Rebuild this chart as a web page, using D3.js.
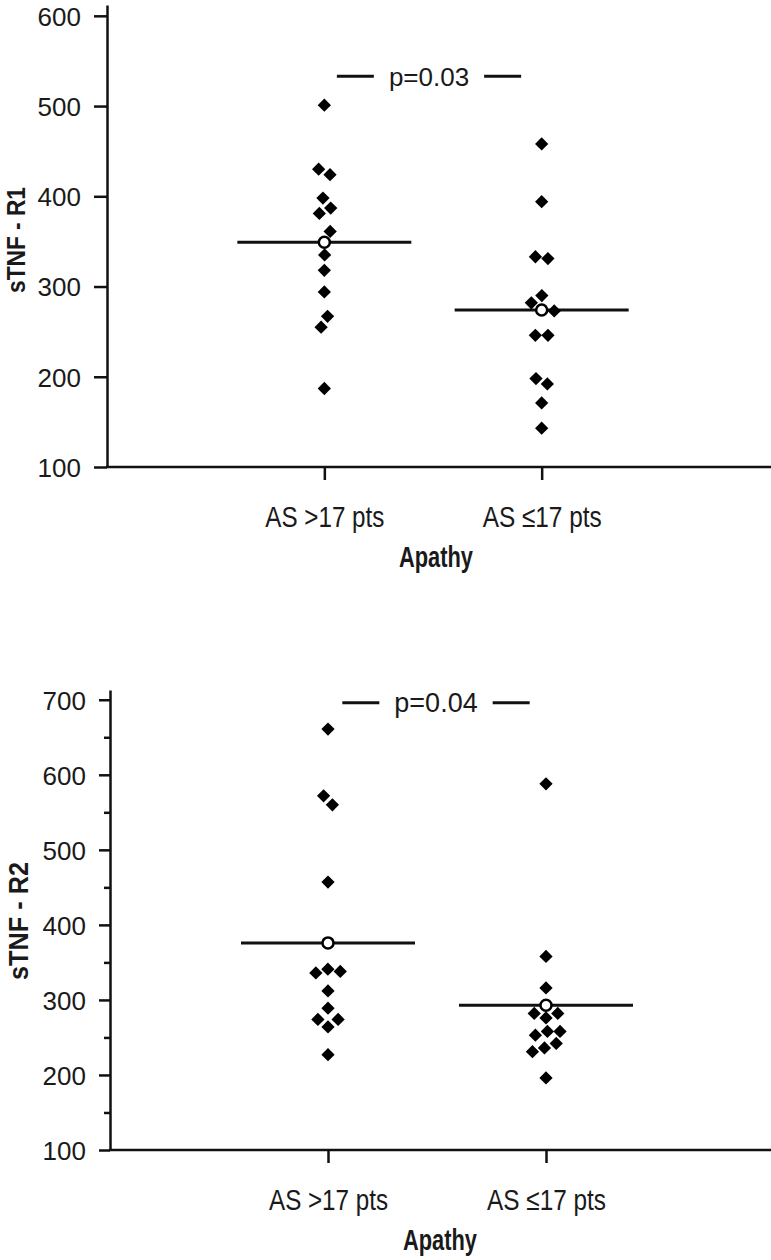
<!DOCTYPE html>
<html>
<head>
<meta charset="utf-8">
<script src="https://cdn.jsdelivr.net/npm/d3@7"></script>
<style>
  body { margin: 0; background: #fff; }
  svg text { fill: #1a1a1a; font-family: "Liberation Sans", Arial, sans-serif; }
</style>
</head>
<body>
<script>
// categories
const groups = ["AS >17 pts", "AS \u226417 pts"];

// sTNF - R1 values
const r1High = [501, 430, 424, 398, 387, 381, 361, 335, 318, 294, 267, 255, 187];
const r1Low = [458, 394, 333, 331, 290, 282, 273, 246, 246, 198, 192, 171, 143];
const r1Median = [349, 274];
const r1Ticks = [100, 200, 300, 400, 500, 600];

// sTNF - R2 values
const r2High = [661, 572, 560, 457, 341, 338, 336, 312, 289, 274, 274, 264, 227];
const r2Low = [588, 358, 316, 282, 282, 276, 258, 258, 253, 242, 236, 231, 196];
const r2Median = [376, 293];
const r2Ticks = [100, 200, 300, 400, 500, 600, 700];
const r2Minor = [150, 250, 350, 450, 550, 650];

const pLabels = ["p=0.03", "p=0.04"];
const pLevels = [533, 696];

const W = 771, H = 1260;

const svg = d3.select("body").append("svg")
    .attr("width", W)
    .attr("height", H);

const diamond = d3.symbol().type(d3.symbolSquare).size(88);

// squeeze a text to a width so it reads like the condensed face of the original
function squeeze(sel, w) {
    sel.attr("textLength", w).attr("lengthAdjust", "spacingAndGlyphs");
}

function drawPanel(p) {
    const g = svg.append("g");

    const y = d3.scaleLinear().domain([100, p.yMax]).range([p.bottom, p.top]);
    const x = d3.scalePoint().domain(groups).range([p.left, p.left + p.span]).padding(1);

    // y axis with labels
    const yAxis = g.append("g")
        .attr("transform", `translate(${p.left},0)`)
        .call(d3.axisLeft(y).tickValues(p.ticks).tickSize(p.tickLen).tickSizeOuter(0).tickPadding(13));
    yAxis.selectAll("line").attr("stroke", "#111").attr("stroke-width", 2.5);
    yAxis.select(".domain").attr("stroke", "#111").attr("stroke-width", 2.5);
    yAxis.selectAll("text")
        .attr("font-size", p.tickFont)
        .attr("font-family", null)
        .attr("dy", "0.36em");

    // minor ticks (bottom panel only)
    if (p.minor) {
        const m = g.append("g")
            .attr("transform", `translate(${p.left},0)`)
            .call(d3.axisLeft(y).tickValues(p.minor).tickSize(6).tickFormat(""));
        m.select(".domain").remove();
        m.selectAll("line").attr("stroke", "#111").attr("stroke-width", 2.5);
    }

    // x axis
    const xAxis = g.append("g")
        .attr("transform", `translate(0,${p.bottom})`)
        .call(d3.axisBottom(x).tickSize(13).tickSizeOuter(0));
    xAxis.select(".domain").remove();
    xAxis.selectAll("line").attr("stroke", "#111").attr("stroke-width", 2.5);
    xAxis.selectAll("text")
        .attr("font-size", p.catFont)
        .attr("font-family", null)
        .attr("y", 60)
        .attr("dy", 0)
        .call(squeeze, 119);
    g.append("line")
        .attr("x1", p.left - 1).attr("x2", W)
        .attr("y1", p.bottom).attr("y2", p.bottom)
        .attr("stroke", "#111").attr("stroke-width", 2.5);

    const mid = (x(groups[0]) + x(groups[1])) / 2;

    // axis titles
    g.append("text")
        .attr("font-weight", "bold")
        .attr("font-size", p.titleFont)
        .attr("text-anchor", "middle")
        .attr("x", mid + 3)
        .attr("y", p.bottom + 100)
        .text("Apathy")
        .call(squeeze, 74);

    g.append("text")
        .attr("font-weight", "bold")
        .attr("font-size", p.yTitleFont)
        .attr("text-anchor", "middle")
        .attr("transform", `translate(${p.yLabelX},${p.yLabelY}) rotate(-90)`)
        .attr("dy", "0.36em")
        .text(p.yLabel)
        .call(squeeze, p.yLabelLen);

    // significance bracket
    const pt = g.append("text")
        .attr("font-size", p.pFont)
        .attr("text-anchor", "middle")
        .attr("x", mid - p.pShift)
        .attr("y", y(p.pLevel))
        .attr("dy", "0.36em")
        .text(p.pLabel);
    const tw = pt.node().getComputedTextLength();
    [-1, 1].forEach(s => {
        const a = mid - p.pShift + s * (tw / 2 + 15);
        g.append("line")
            .attr("x1", a).attr("x2", a + s * 37)
            .attr("y1", y(p.pLevel)).attr("y2", y(p.pLevel))
            .attr("stroke", "#111").attr("stroke-width", 3);
    });

    // points per group, spread with a small collision layout
    groups.forEach((grp, i) => {
        const cx = x(grp);
        const med = p.median[i];
        const nodes = p.values[i].map(v => ({ x: cx, fy: y(v) }));
        nodes.push({ x: cx, fx: cx, fy: y(med), isMedian: true });
        d3.forceSimulation(nodes)
            .force("x", d3.forceX(cx).strength(0.15))
            .force("collide", d3.forceCollide(6.3))
            .stop()
            .tick(300);

        g.append("line")
            .attr("x1", cx - 87).attr("x2", cx + 87)
            .attr("y1", y(med)).attr("y2", y(med))
            .attr("stroke", "#111").attr("stroke-width", 3);

        g.append("g").selectAll("path")
            .data(nodes.filter(d => !d.isMedian))
            .join("path")
            .attr("d", diamond)
            .attr("transform", d => `translate(${d.x},${d.fy}) rotate(45)`)
            .attr("fill", "#000");

        g.append("circle")
            .attr("cx", cx).attr("cy", y(med))
            .attr("r", 5.5)
            .attr("fill", "#fff")
            .attr("stroke", "#000")
            .attr("stroke-width", 2.5);
    });
}

drawPanel({
    top: 5, bottom: 467, left: 107, span: 652, yMax: 612,
    ticks: r1Ticks, tickLen: 13, tickFont: 26, catFont: 30, titleFont: 29, yTitleFont: 26, pFont: 26,
    values: [r1High, r1Low], median: r1Median,
    pLabel: pLabels[0], pLevel: pLevels[0], pShift: 4,
    yLabel: "sTNF - R1", yLabelX: 16, yLabelY: 240, yLabelLen: 106
});

drawPanel({
    top: 690, bottom: 1150, left: 110, span: 654, yMax: 713,
    ticks: r2Ticks, minor: r2Minor, tickLen: 11, tickFont: 26, catFont: 30, titleFont: 30, yTitleFont: 27, pFont: 27,
    values: [r2High, r2Low], median: r2Median,
    pLabel: pLabels[1], pLevel: pLevels[1], pShift: 1,
    yLabel: "sTNF - R2", yLabelX: 18, yLabelY: 921, yLabelLen: 118
});
</script>
</body>
</html>
